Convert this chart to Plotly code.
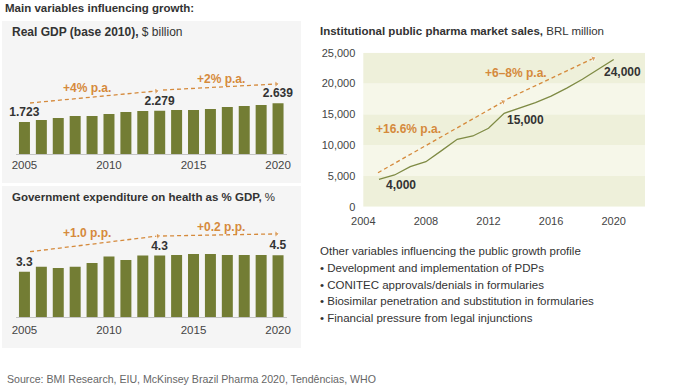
import plotly.graph_objects as go

W, H = 689, 386
FONT = "Liberation Sans, Arial, Helvetica, sans-serif"
DARK = "#333333"
ORANGE = "#D58A3C"
OLIVE = "#737D34"
LINE_OLIVE = "#7F8B45"

# ---------------- data ----------------
years = list(range(2005, 2021))
gdp = [1723, 1821, 1919, 2018, 2018, 2116, 2214, 2263, 2279, 2312, 2312, 2361, 2460, 2509, 2558, 2639]
gdp_labeled = [2005, 2013, 2020]

health = [3.3, 3.67, 3.57, 3.67, 3.94, 4.40, 4.15, 4.47, 4.47, 4.52, 4.59, 4.59, 4.52, 4.52, 4.52, 4.5]
health_labels = {2005: "3.3", 2013: "4.3", 2020: "4.5"}

sales_years = list(range(2005, 2021))
sales = [4450, 5150, 6500, 7300, 9100, 10950, 11480, 12730, 15160, 16000, 16900, 17950, 19250, 20700, 22250, 23900]
sales_labels = {2005: "4,000", 2013: "15,000", 2020: "24,000"}

bar_ticks = [2005, 2010, 2015, 2020]
line_xticks = [2004, 2008, 2012, 2016, 2020]
line_yticks = [0, 5000, 10000, 15000, 20000, 25000]

# trend arrows (data coordinates: year, value)
gdp_trend = [([2005.33, 2012.8], [2656, 3245], "+4% p.a.", (2008.7, 3392)),
             ([2013.2, 2019.9], [3294, 3588], "+2% p.a.", (2016.6, 3834))]
health_trend = [([2005.33, 2012.9], [4.75, 5.89], "+1.0 p.p.", (2008.7, 6.13)),
                ([2013.2, 2019.9], [5.89, 6.04], "+0.2 p.p.", (2016.6, 6.57))]
sales_trend = [([2004.94, 2012.94], [5519, 17045], "+16.6% p.a.", (2006.86, 12565)),
               ([2013.2, 2018.7], [17484, 24091], "+6\u20138% p.a.", (2013.74, 21656))]


def px(x):
    return x / W


def py(y):
    return 1 - y / H


fig = go.Figure()

# ---------------- bar charts ----------------
gdp_text = [f"{v/1000:.3f}" if y in gdp_labeled else "" for y, v in zip(years, gdp)]
fig.add_trace(go.Bar(x=years, y=gdp, marker=dict(color=OLIVE, line=dict(width=0)),
                     text=gdp_text, textposition="outside", cliponaxis=False,
                     constraintext="none",
                     textfont=dict(family=FONT, size=12, color=DARK, weight="bold"),
                     xaxis="x", yaxis="y", hoverinfo="skip"))
health_text = [health_labels.get(y, "") for y in years]
fig.add_trace(go.Bar(x=years, y=health, marker=dict(color=OLIVE, line=dict(width=0)),
                     text=health_text, textposition="outside", cliponaxis=False,
                     constraintext="none",
                     textfont=dict(family=FONT, size=12, color=DARK, weight="bold"),
                     xaxis="x2", yaxis="y2", hoverinfo="skip"))

# ---------------- line chart ----------------
fig.add_trace(go.Scatter(x=sales_years, y=sales, mode="lines",
                         line=dict(color=LINE_OLIVE, width=1.3),
                         xaxis="x3", yaxis="y3", hoverinfo="skip"))

annotations = []


def add_trend(trend, xa, ya):
    for xs, ys, label, (lx, ly) in trend:
        fig.add_trace(go.Scatter(x=xs, y=ys, mode="lines+markers",
                                 line=dict(color=ORANGE, width=1.3, dash="4px,3px"),
                                 marker=dict(symbol="triangle-up", size=[0, 6], color=ORANGE,
                                             angleref="previous"),
                                 cliponaxis=False, xaxis=xa, yaxis=ya, hoverinfo="skip"))
        annotations.append(dict(x=lx, y=ly, xref=xa, yref=ya, text=f"<b>{label}</b>",
                                showarrow=False, xanchor="center", yanchor="middle",
                                font=dict(family=FONT, size=12, color=ORANGE)))


add_trend(gdp_trend, "x", "y")
add_trend(health_trend, "x2", "y2")
add_trend(sales_trend, "x3", "y3")

label_shift = {2005: (22, -6), 2013: (21, -7), 2020: (9, -13)}
for yr, txt in sales_labels.items():
    v = sales[sales_years.index(yr)]
    dx, dy = label_shift[yr]
    annotations.append(dict(x=yr, y=v, xref="x3", yref="y3", text=f"<b>{txt}</b>",
                            showarrow=False, xanchor="center", yanchor="middle",
                            xshift=dx, yshift=dy,
                            font=dict(family=FONT, size=12, color=DARK)))

# ---------------- texts ----------------
def txt(x, y, s, size=11.5, color=DARK, anchor="left"):
    annotations.append(dict(x=px(x), y=py(y), xref="paper", yref="paper", text=s,
                            showarrow=False, xanchor=anchor, yanchor="middle",
                            font=dict(family=FONT, size=size, color=color)))


txt(3, 8, "<b>Main variables influencing growth:</b>")
txt(10, 32, "<b>Real GDP (base 2010),</b> $ billion", size=12)
txt(10, 197, "<b>Government expenditure on health as % GDP,</b> %")
txt(318, 31, "<b>Institutional public pharma market sales,</b> BRL million")
txt(318, 251, "Other variables influencing the public growth profile", size=11.5)
bullets = ["Development and implementation of PDPs",
           "CONITEC approvals/denials in formularies",
           "Biosimilar penetration and substitution in formularies",
           "Financial pressure from legal injunctions"]
for i, b in enumerate(bullets):
    txt(318, 268 + i * 16.7, "\u2022 " + b, size=11.5)
txt(5, 379, "Source: BMI Research, EIU, McKinsey Brazil Pharma 2020, Tend\u00eancias, WHO",
    size=10.6, color="#666666")

# ---------------- shapes ----------------
shapes = [
    dict(type="rect", xref="paper", yref="paper", x0=px(2), x1=px(301), y0=py(183), y1=py(21),
         fillcolor="#f5f5f5", line=dict(width=0), layer="below"),
    dict(type="rect", xref="paper", yref="paper", x0=px(2), x1=px(301), y0=py(348), y1=py(186),
         fillcolor="#f5f5f5", line=dict(width=0), layer="below"),
]
band_colors = ["#EEF0DA", "#F6F7E9"]
for i in range(len(line_yticks) - 1):
    shapes.append(dict(type="rect", xref="x3 domain", yref="y3", x0=0, x1=1,
                       y0=line_yticks[i], y1=line_yticks[i + 1],
                       fillcolor=band_colors[i % 2], line=dict(width=0), layer="below"))

tickfont = dict(family=FONT, size=11.5, color="#444444")
bar_x = dict(range=[2004.5, 2020.5], tickvals=bar_ticks, showgrid=False, zeroline=False,
             showline=True, linecolor="#c4c4c4", linewidth=1, ticks="", tickfont=tickfont,
             fixedrange=True, automargin=False)

fig.update_layout(
    width=W, height=H, margin=dict(l=0, r=0, t=0, b=0, pad=0, autoexpand=False),
    paper_bgcolor="white", plot_bgcolor="rgba(0,0,0,0)",
    showlegend=False, bargap=0.35,
    font=dict(family=FONT, color=DARK),
    xaxis=dict(domain=[px(16), px(286.5)], anchor="y", **bar_x),
    yaxis=dict(domain=[py(154), py(60)], range=[152, 4767], visible=False, anchor="x",
               automargin=False),
    xaxis2=dict(domain=[px(16), px(286.5)], anchor="y2", ticklabelstandoff=2, **bar_x),
    yaxis2=dict(domain=[py(317.3), py(215)], range=[0, 7.41], visible=False, anchor="x2",
                automargin=False),
    xaxis3=dict(domain=[px(363.3), px(645)], anchor="y3", range=[2004, 2022],
                tickvals=line_xticks, showgrid=False, zeroline=False, showline=False,
                ticks="", automargin=False, ticklabelstandoff=6,
                tickfont=dict(family=FONT, size=11, color="#444444")),
    yaxis3=dict(domain=[py(206.7), py(52.7)], anchor="x3", range=[0, 25000],
                tickvals=line_yticks, tickformat=",", showgrid=False, zeroline=False,
                showline=False, ticks="", automargin=False, ticklabelstandoff=7,
                tickfont=dict(family=FONT, size=11, color="#444444")),
    shapes=shapes, annotations=annotations,
)

fig.write_html("out.html", config={"displayModeBar": False},
               post_script="document.body.style.margin='0';")
